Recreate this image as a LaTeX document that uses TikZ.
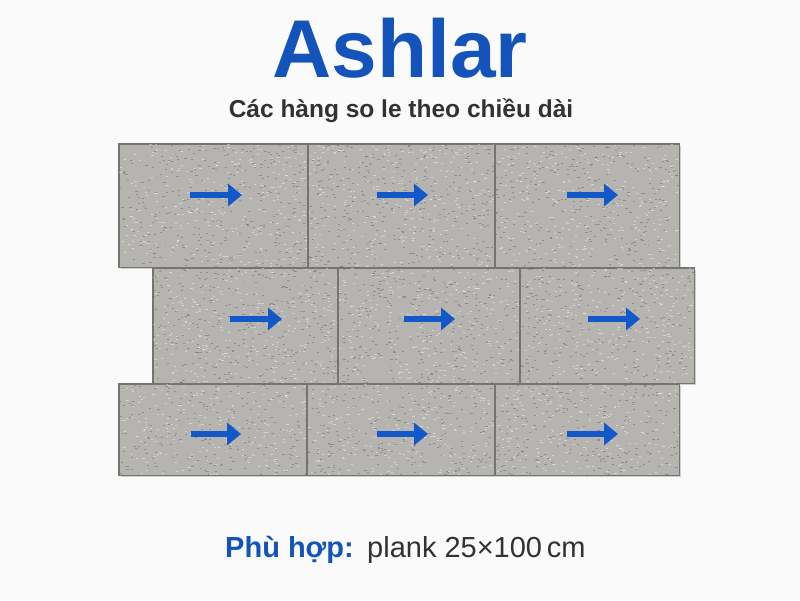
\documentclass[tikz,border=0pt]{standalone}
\usepackage{fontspec}
\setmainfont{Liberation Sans}
\usetikzlibrary{arrows.meta,shadows}

\begin{document}
\begin{tikzpicture}[x=1pt, y=-1pt,
    tile/.style={rectangle, draw=tileedge, line width=0.7pt, fill=tilegray, inner sep=0pt,
        drop shadow={shadow xshift=1.5pt, shadow yshift=-1.5pt, opacity=0.35}},
    tileline/.style={draw=tileedge, line width=0.7pt},
    speckdark/.style={draw=speckcolor, line width=0.6pt, opacity=0.45},
    specklight/.style={draw=white, line width=0.6pt, opacity=0.4},
    tilearrow/.style={draw=arrowblue, line width=5.5pt, -{Triangle[length=14pt, width=22pt]}},
    caption/.style={inner sep=0pt, anchor=base}]
    % Define colors
    \definecolor{bggray}{RGB}{250, 250, 250}
    \definecolor{tilegray}{RGB}{182, 180, 177}
    \definecolor{tileedge}{RGB}{118, 116, 113}
    \definecolor{speckcolor}{RGB}{100, 98, 95}
    \definecolor{arrowblue}{RGB}{18, 88, 200}
    \definecolor{titleblue}{RGB}{20, 84, 186}
    \definecolor{textgray}{RGB}{50, 50, 50}

    % Background and page size
    \fill[bggray] (0,0) rectangle (800,600);

    % Title
    \node[caption, text=titleblue, font=\bfseries\fontsize{82}{82}\selectfont] (title) at (400,77) {Ashlar};
    \node[caption, text=textgray, font=\bfseries\fontsize{24.5}{24.5}\selectfont] (subtitle) at (401,117) {Các hàng so le theo chiều dài};

    % Row 1
    \node[tile, minimum width=189pt, minimum height=123pt] (t11) at (213.5,205.5) {};
    \node[tile, minimum width=187pt, minimum height=123pt] (t12) at (401.5,205.5) {};
    \node[tile, minimum width=184pt, minimum height=123pt] (t13) at (587,205.5) {};

    % Row 2 (shifted right)
    \node[tile, minimum width=185pt, minimum height=115pt] (t21) at (245.5,325.5) {};
    \node[tile, minimum width=182pt, minimum height=115pt] (t22) at (429,325.5) {};
    \node[tile, minimum width=174pt, minimum height=115pt] (t23) at (607,325.5) {};

    % Row 3
    \node[tile, minimum width=188pt, minimum height=91pt] (t31) at (213,429.5) {};
    \node[tile, minimum width=188pt, minimum height=91pt] (t32) at (401,429.5) {};
    \node[tile, minimum width=184pt, minimum height=91pt] (t33) at (587,429.5) {};

    % Stone texture
    \begin{scope}
        \clip (t11.south west) rectangle (t11.north east) (t12.south west) rectangle (t12.north east)
              (t13.south west) rectangle (t13.north east) (t21.south west) rectangle (t21.north east)
              (t22.south west) rectangle (t22.north east) (t23.south west) rectangle (t23.north east)
              (t31.south west) rectangle (t31.north east) (t32.south west) rectangle (t32.north east)
              (t33.south west) rectangle (t33.north east);
        \pgfmathsetseed{7}
        \foreach \i in {1,...,2600} {
            \pgfmathsetmacro\px{119+576*rnd}
            \pgfmathsetmacro\py{144+331*rnd}
            \draw[speckdark] (\px,\py) -- ++(2.2,0);
        }
        \foreach \i in {1,...,2600} {
            \pgfmathsetmacro\px{119+576*rnd}
            \pgfmathsetmacro\py{144+331*rnd}
            \draw[specklight] (\px,\py) -- ++(2.2,0);
        }
    \end{scope}
    \foreach \t in {t11,t12,t13,t21,t22,t23,t31,t32,t33}
        \draw[tileline] (\t.south west) rectangle (\t.north east);

    % Direction arrows
    \foreach \n/\xa/\xb/\y in {11/190/242/195, 12/377/428/195, 13/567/618/195,
                               21/230/282/319, 22/404/455/319, 23/588/640/319,
                               31/191/241/434, 32/377/428/434, 33/567/618/434} {
        \coordinate (s\n) at (\xa,\y);
        \coordinate (e\n) at (\xb,\y);
        \draw[tilearrow] (s\n) -- (e\n);
    }

    % Bottom line
    \node[caption, anchor=base west, text=titleblue, font=\bfseries\fontsize{29}{29}\selectfont] (fitlabel) at (225,557) {Phù hợp:};
    \node[caption, anchor=base west, text=textgray, font=\fontsize{29}{29}\selectfont] (fitsize) at (367,557) {plank 25×100\,cm};
\end{tikzpicture}
\end{document}
